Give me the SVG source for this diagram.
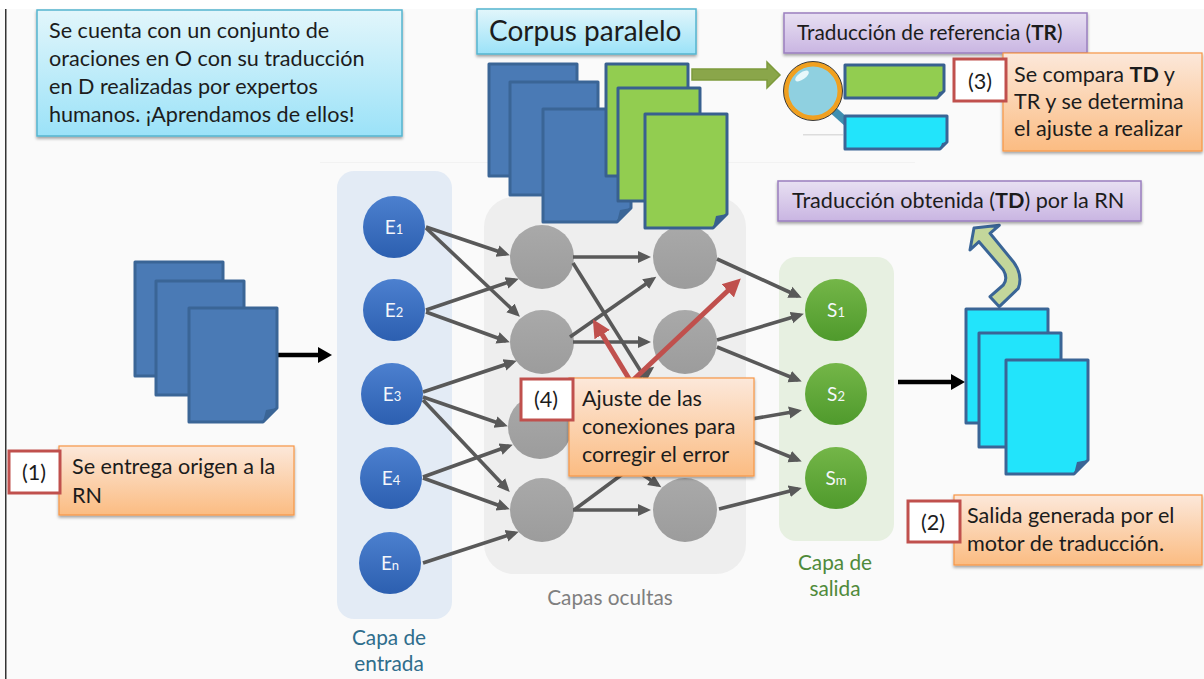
<svg xmlns="http://www.w3.org/2000/svg" width="1204" height="679" viewBox="0 0 1204 679">
<style>
text{font-family:Lato,"Open Sans","Liberation Sans",sans-serif;font-size:21.6px;fill:#1c1c1c}
.lbl{text-anchor:middle}
.n{font-size:19px;fill:#f4f7fb;text-anchor:middle}
.n tspan{font-size:13px}
.cap{text-anchor:middle;font-size:20.8px}
.edge{stroke:#595959;stroke-width:3.6;fill:none;marker-end:url(#ah)}
.edge2{stroke:#595959;stroke-width:3.6;fill:none}
.red{stroke:#c0504d;stroke-width:5;fill:none;marker-end:url(#rh)}
.blk{stroke:#000;stroke-width:4.6;fill:none;marker-end:url(#bh)}
.blue{fill:#4a7ab5;stroke:#3a6596;stroke-width:3;stroke-linejoin:round}
.green{fill:#92cd50;stroke:#38608f;stroke-width:3;stroke-linejoin:round}
.cyan{fill:#22e4fb;stroke:#3a6596;stroke-width:3;stroke-linejoin:round}
.foldb{fill:#3a6596;stroke:none}
.fold{fill:#38608f;stroke:none}
.org{fill:url(#gorg);stroke:#f79646;stroke-width:1.2;filter:url(#sh)}
.pur{fill:url(#gpur);stroke:#9a7fbf;stroke-width:1.5;filter:url(#sh)}
.sky{fill:url(#gsky);stroke:#55b5cf;stroke-width:1.5;filter:url(#sh)}
.rbox{fill:#fff;stroke:#c0504d;stroke-width:3}
</style>
<defs>
<linearGradient id="gorg" x1="0" y1="0" x2="0" y2="1"><stop offset="0" stop-color="#fce8da"/><stop offset="1" stop-color="#fbbc82"/></linearGradient>
<linearGradient id="gpur" x1="0" y1="0" x2="0" y2="1"><stop offset="0" stop-color="#e8e0f2"/><stop offset="1" stop-color="#c9b5e2"/></linearGradient>
<linearGradient id="gsky" x1="0" y1="0" x2="0" y2="1"><stop offset="0" stop-color="#e2f6fb"/><stop offset="1" stop-color="#9be2f8"/></linearGradient>
<linearGradient id="gb" x1="0" y1="0" x2="0" y2="1"><stop offset="0" stop-color="#4c80cf"/><stop offset="1" stop-color="#2c5fb0"/></linearGradient>
<linearGradient id="gg" x1="0" y1="0" x2="0" y2="1"><stop offset="0" stop-color="#74b648"/><stop offset="1" stop-color="#4f9a2c"/></linearGradient>
<linearGradient id="gh" x1="0" y1="0" x2="0" y2="1"><stop offset="0" stop-color="#a9a9a9"/><stop offset="1" stop-color="#9c9c9c"/></linearGradient>
<filter id="sh" x="-5%" y="-10%" width="110%" height="125%"><feDropShadow dx="0" dy="2" stdDeviation="1.5" flood-color="#000" flood-opacity=".35"/></filter>
<marker id="ah" markerUnits="userSpaceOnUse" markerWidth="14" markerHeight="14" refX="9" refY="7" orient="auto"><path d="M0 1L13 7L0 13Z" fill="#595959"/></marker>
<marker id="rh" markerUnits="userSpaceOnUse" markerWidth="19" markerHeight="20" refX="10" refY="10" orient="auto"><path d="M0 1L18 10L0 19Z" fill="#c0504d"/></marker>
<marker id="bh" markerUnits="userSpaceOnUse" markerWidth="15" markerHeight="18" refX="6" refY="9" orient="auto"><path d="M0 1L14 9L0 17Z" fill="#000"/></marker>
</defs>

<rect width="1204" height="679" fill="#fafafa"/>
<rect width="1204" height="9" fill="#fff"/>
<rect x="5" y="9" width="1.5" height="670" fill="#333"/>
<rect x="320" y="162" width="595" height="1" fill="#f2f2f2"/>

<g id="panels">
<rect x="337" y="171" width="115" height="448" rx="17" fill="#e3ebf5"/>
<rect x="484" y="197" width="262" height="377" rx="30" fill="#eeeeee"/>
<rect x="779" y="257" width="115" height="284" rx="17" fill="#e7f0e1"/>
<text class="cap" x="389" y="645" style="fill:#2f6d8c">Capa de</text>
<text class="cap" x="389" y="671" style="fill:#2f6d8c">entrada</text>
<text class="cap" x="610" y="605" style="fill:#7f7f7f">Capas ocultas</text>
<text class="cap" x="835" y="570" style="fill:#4f8a3a">Capa de</text>
<text class="cap" x="835" y="596" style="fill:#4f8a3a">salida</text>
</g>

<g id="node-e1"><circle cx="394" cy="227" r="31" fill="url(#gb)"/><text class="n" x="394" y="234">E<tspan>1</tspan></text></g>
<g id="node-e2"><circle cx="394" cy="310" r="31" fill="url(#gb)"/><text class="n" x="394" y="317">E<tspan>2</tspan></text></g>
<g id="node-e3"><circle cx="392" cy="394" r="31" fill="url(#gb)"/><text class="n" x="392" y="401">E<tspan>3</tspan></text></g>
<g id="node-e4"><circle cx="391" cy="478" r="31" fill="url(#gb)"/><text class="n" x="391" y="485">E<tspan>4</tspan></text></g>
<g id="node-en"><circle cx="390" cy="563" r="31" fill="url(#gb)"/><text class="n" x="390" y="570">E<tspan>n</tspan></text></g>
<g id="node-h11"><circle cx="542" cy="257" r="32" fill="url(#gh)"/></g>
<g id="node-h12"><circle cx="542" cy="342" r="32" fill="url(#gh)"/></g>
<g id="node-h13"><circle cx="540" cy="427" r="32" fill="url(#gh)"/></g>
<g id="node-h14"><circle cx="542" cy="510" r="32" fill="url(#gh)"/></g>
<g id="node-h21"><circle cx="685" cy="257" r="32" fill="url(#gh)"/></g>
<g id="node-h22"><circle cx="685" cy="342" r="32" fill="url(#gh)"/></g>
<g id="node-h23"><circle cx="685" cy="427" r="32" fill="url(#gh)"/></g>
<g id="node-h24"><circle cx="685" cy="510" r="32" fill="url(#gh)"/></g>
<g id="node-s1"><circle cx="836" cy="310" r="31" fill="url(#gg)"/><text class="n" x="836" y="317">S<tspan>1</tspan></text></g>
<g id="node-s2"><circle cx="836" cy="394" r="31" fill="url(#gg)"/><text class="n" x="836" y="401">S<tspan>2</tspan></text></g>
<g id="node-sm"><circle cx="836" cy="478" r="31" fill="url(#gg)"/><text class="n" x="836" y="485">S<tspan>m</tspan></text></g>

<g id="connectors">
<line class="edge" x1="426" y1="227" x2="506" y2="254"/>
<line class="edge" x1="426" y1="228" x2="517" y2="314"/>
<line class="edge" x1="426" y1="310" x2="515" y2="280"/>
<line class="edge" x1="426" y1="312" x2="506" y2="341"/>
<line class="edge" x1="423" y1="392" x2="513" y2="362"/>
<line class="edge" x1="423" y1="397" x2="504" y2="425"/>
<line class="edge" x1="423" y1="400" x2="507" y2="489"/>
<line class="edge" x1="423" y1="477" x2="509" y2="446"/>
<line class="edge" x1="423" y1="478" x2="506" y2="508"/>
<line class="edge" x1="423" y1="563" x2="515" y2="533"/>
<line class="edge" x1="573" y1="257" x2="647" y2="257"/>
<line class="edge2" x1="573" y1="263" x2="660" y2="402"/>
<line class="edge" x1="570" y1="337" x2="653" y2="279"/>
<line class="edge" x1="573" y1="342" x2="647" y2="342"/>
<line class="edge" x1="572" y1="427" x2="651" y2="369"/>
<line class="edge" x1="573" y1="510" x2="647" y2="510"/>
<line class="edge2" x1="574" y1="510" x2="655" y2="450"/>
<line class="edge" x1="572" y1="427" x2="658" y2="485"/>
<line class="edge" x1="717" y1="259" x2="798" y2="296"/>
<line class="edge" x1="717" y1="340" x2="800" y2="315"/>
<line class="edge" x1="717" y1="347" x2="798" y2="380"/>
<line class="edge" x1="717" y1="425" x2="798" y2="411"/>
<line class="edge" x1="717" y1="427" x2="798" y2="460"/>
<line class="edge" x1="719" y1="509" x2="798" y2="489"/>
<line class="red" x1="631" y1="382" x2="597" y2="326"/>
<line class="red" x1="631" y1="382" x2="735" y2="284"/>
<line class="blk" x1="277" y1="355" x2="324" y2="355"/>
<line class="blk" x1="898" y1="382" x2="957" y2="382"/>
<path id="arrow-corpus" d="M692 69H767V62L780 75L767 88V80H692Z" fill="#8aa64a" stroke="#7d9a3c" stroke-width="1.5"/>
<path id="arrow-td" d="M999.3 306.7L1018.3 288.3Q1023.3 275 1013.3 261.7L990 233.3L999.3 225.3L974 228L970 250L979 241.7L1003.3 270Q1008.3 278.3 1003.3 285L990 296.7Z" fill="#c3d69b" stroke="#3a6596" stroke-width="3" stroke-linejoin="round"/>
</g>

<g id="docs-input">
<rect class="blue" x="135" y="262" width="88" height="114"/>
<rect class="blue" x="156" y="281" width="88" height="114"/>
<path class="blue" d="M189 308H277V408L263 422H189Z"/>
<path class="foldb" d="M263 422L266 410L277 408Z"/>
</g>
<g id="docs-corpus-origin">
<rect class="blue" x="489" y="64" width="88" height="112"/>
<rect class="blue" x="510" y="82" width="88" height="113"/>
<path class="blue" d="M543 109H631V208L617 222H543Z"/>
<path class="foldb" d="M617 222L620 210L631 208Z"/>
</g>
<g id="docs-corpus-target">
<rect class="green" x="606" y="64" width="82" height="112"/>
<rect class="green" x="618" y="88" width="82" height="113"/>
<path class="green" d="M645 114H727V214L713 228H645Z"/>
<path class="fold" d="M713 228L716 216L727 214Z"/>
</g>
<g id="docs-output">
<rect class="cyan" x="966" y="309" width="82" height="114"/>
<rect class="cyan" x="979" y="333" width="82" height="114"/>
<path class="cyan" d="M1006 360H1088V460L1074 474H1006Z"/>
<path class="foldb" d="M1074 474L1077 462L1088 460Z"/>
</g>

<g id="compare">
<line x1="833" y1="110" x2="852" y2="127" stroke="#3f8fb0" stroke-width="8"/>
<circle cx="813" cy="91" r="27" fill="#8fd0e0" stroke="#f0a020" stroke-width="5"/>
<circle cx="813" cy="91" r="29.5" fill="none" stroke="#3a3a3a" stroke-width="1"/>
<ellipse cx="802" cy="76" rx="8" ry="3.5" transform="rotate(-35 802 76)" fill="#e8f8fb"/>
<path class="green" d="M845 65H944V91L937 98H845Z"/>
<path class="fold" d="M937 98L939 92L944 91Z"/>
<path class="cyan" d="M845 116H947V142L940 149H845Z"/>
<path class="foldb" d="M940 149L942 143L947 142Z"/>
<rect x="803" y="134" width="40" height="1.5" fill="#dcdcdc"/>
</g>

<g id="box-info"><rect class="sky" x="37" y="10" width="365" height="126"/>
<text x="49" y="38">Se cuenta con un conjunto de</text>
<text x="49" y="66">oraciones en O con su traducción</text>
<text x="49" y="94">en D realizadas por expertos</text>
<text x="49" y="122">humanos. ¡Aprendamos de ellos!</text></g>

<g id="box-corpus"><rect class="sky" x="477" y="9" width="219" height="45"/>
<text x="489" y="41" style="font-size:28px">Corpus paralelo</text></g>

<g id="box-tr"><rect class="pur" x="784" y="13" width="303" height="40"/>
<text x="797" y="40" style="font-size:20.8px">Traducción de referencia (<tspan font-weight="700">TR</tspan>)</text></g>

<g id="box-td"><rect class="pur" x="778" y="181" width="363" height="40"/>
<text x="792" y="208">Traducción obtenida (<tspan font-weight="700">TD</tspan>) por la RN</text></g>

<g id="box-3"><rect class="org" x="1003" y="53" width="199" height="98"/>
<text x="1014" y="82">Se compara <tspan font-weight="700">TD</tspan> y</text>
<text x="1014" y="109">TR y se determina</text>
<text x="1014" y="136">el ajuste a realizar</text>
<rect class="rbox" x="954" y="59" width="52" height="42"/>
<text class="lbl" x="980" y="89">(3)</text></g>

<g id="box-2"><rect class="org" x="954" y="495" width="248" height="70"/>
<text x="967" y="523">Salida generada por el</text>
<text x="967" y="551">motor de traducción.</text>
<rect class="rbox" x="908" y="501" width="52" height="41"/>
<text class="lbl" x="933" y="530">(2)</text></g>

<g id="box-1"><rect class="org" x="59" y="446" width="235" height="69"/>
<text x="72" y="474">Se entrega origen a la</text>
<text x="72" y="503">RN</text>
<rect class="rbox" x="9" y="451" width="51" height="42"/>
<text class="lbl" x="34" y="480">(1)</text></g>

<g id="box-4"><rect class="org" x="569" y="378" width="185" height="98"/>
<text x="582" y="406">Ajuste de las</text>
<text x="582" y="434">conexiones para</text>
<text x="582" y="462">corregir el error</text>
<rect class="rbox" x="521" y="379" width="52" height="41"/>
<text class="lbl" x="546" y="407">(4)</text></g>
</svg>
